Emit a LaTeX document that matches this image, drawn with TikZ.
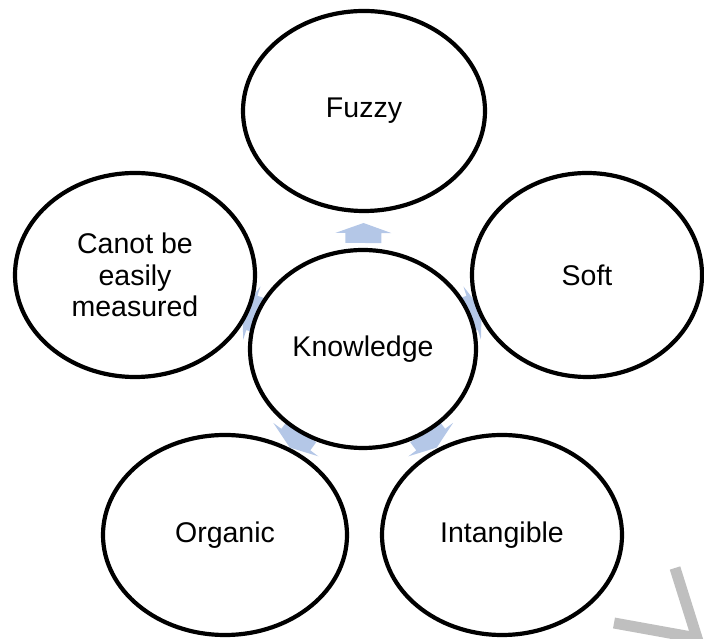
\documentclass[tikz,border=0pt]{standalone}
\usepackage{fontspec}
\setmainfont{Liberation Sans}
\usetikzlibrary{shapes.geometric,calc,backgrounds}
\definecolor{arrowblue}{RGB}{180,199,231}
\definecolor{markgray}{RGB}{191,191,191}
\tikzset{
  bubble/.style={ellipse, draw=black, fill=white, line width=4.2pt, inner sep=0pt,
    align=center, font=\fontsize{28.5}{31.5}\selectfont},
  flowarrow/.style={fill=arrowblue, draw=none},
}
\begin{document}
\begin{tikzpicture}[x=1pt,y=1pt]
\useasboundingbox (0,0) rectangle (704,639);
\node[bubble, minimum width=226pt, minimum height=198pt] (K) at (363,290) {Knowledge};
\node[bubble, minimum width=242pt, minimum height=200pt] (F) at (364,528) {Fuzzy};
\node[bubble, minimum width=230pt, minimum height=204pt] (S) at (587,364) {Soft};
\node[bubble, minimum width=240pt, minimum height=204pt] (C) at (135,364) {Canot be\\easily\\measured};
\node[bubble, minimum width=244pt, minimum height=200pt] (O) at (225,104) {Organic};
\node[bubble, minimum width=240pt, minimum height=200pt] (I) at (502,104) {Intangible};
\begin{pgfonlayer}{background}
\foreach \o/\a in {F/89.76, S/18.28, C/162.02, O/233.43, I/-53.23}{
  \fill[flowarrow, shift={($(K)!0.5!(\o)$)}, rotate=\a]
    (7,0) -- (-3,28) -- (-3,18) -- (-13,18) -- (-13,-18) -- (-3,-18) -- (-3,-28) -- cycle;
}
\end{pgfonlayer}
\coordinate (m1) at (614,16);
\coordinate (m2) at (697,1);
\coordinate (m3) at (675,71);
\draw[markgray, line width=11pt] (m1) -- (m2) -- (m3);
\end{tikzpicture}
\end{document}
